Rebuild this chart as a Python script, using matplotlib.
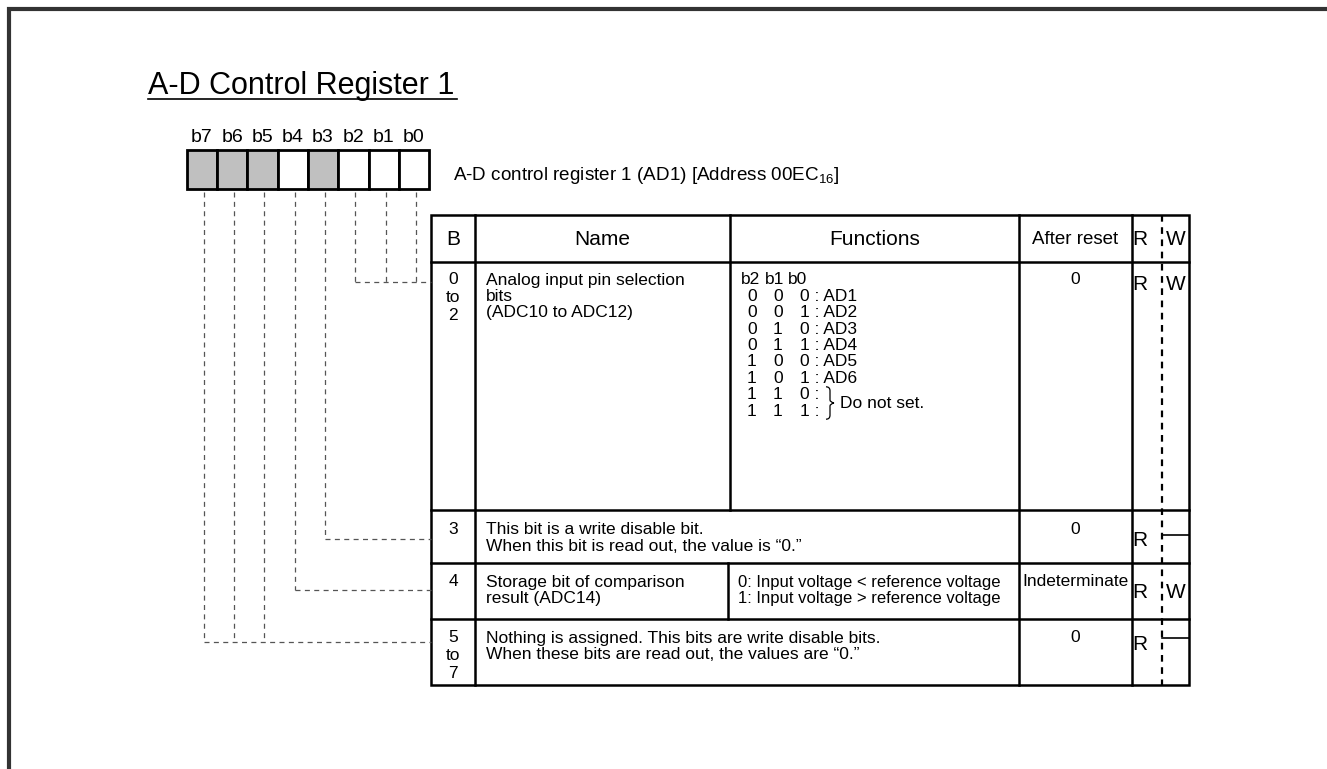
import matplotlib.pyplot as plt
from matplotlib.patches import Rectangle, PathPatch
from matplotlib.path import Path

plt.rcParams['font.family'] = ['Liberation Sans', 'DejaVu Sans']
plt.rcParams['mathtext.fontset'] = 'custom'
plt.rcParams['mathtext.rm'] = 'Liberation Sans'

# ---- content ----
title = "A-D Control Register 1"
reg_desc = r"A-D control register 1 (AD1) [Address 00EC$_{\mathregular{16}}$]"
bit_names = ["b7", "b6", "b5", "b4", "b3", "b2", "b1", "b0"]
bit_shaded = [True, True, True, False, True, False, False, False]

headers = ["B", "Name", "Functions", "After reset"]
row_bits = [["0", "to", "2"], ["3"], ["4"], ["5", "to", "7"]]
row_names = [["Analog input pin selection", "bits", "(ADC10 to ADC12)"],
             ["This bit is a write disable bit.",
              "When this bit is read out, the value is \u201c0.\u201d"],
             ["Storage bit of comparison", "result (ADC14)"],
             ["Nothing is assigned. This bits are write disable bits.",
              "When these bits are read out, the values are \u201c0.\u201d"]]
row_funcs = [None, None,
             ["0: Input voltage < reference voltage",
              "1: Input voltage > reference voltage"], None]
sel_header = ["b2", "b1", "b0"]
sel_codes = ["000", "001", "010", "011", "100", "101", "110", "111"]
sel_labels = ["AD1", "AD2", "AD3", "AD4", "AD5", "AD6", "", ""]
sel_note = "Do not set."
after_reset = ["0", "0", "Indeterminate", "0"]
rw_read = ["R", "R", "R", "R"]
rw_write = ["W", None, "W", None]
# which table row each bit's leader runs to
bit_row = [3, 3, 3, 2, 1, 0, 0, 0]

# ---- layout (pixel coordinates) ----
col_x = [431, 475, 730, 1019, 1132, 1162, 1189]
row_y = [215, 262, 510, 563, 619, 685]
first_line = [280, 530, 582, 638]
leader_y = [282, 539, 590, 642]
step = 16.4
box_x0, box_w, box_y0, box_y1 = 186.7, 30.3, 150, 189

fig = plt.figure(figsize=(13.27, 7.69), dpi=100)
ax = fig.add_axes([0, 0, 1, 1])
ax.set_xlim(0, 1327)
ax.set_ylim(769, 0)
ax.axis('off')

# outer frame (open to the right/bottom edges)
ax.plot([9, 9, 1327], [769, 9, 9], color='#333333', lw=3, solid_joinstyle='miter')

# title
ax.text(148, 94, title, fontsize=22, ha='left', va='baseline')
ax.plot([148, 457], [99, 99], color='black', lw=1.2)

# register bit boxes
for i, (nm, sh) in enumerate(zip(bit_names, bit_shaded)):
    x = box_x0 + i * box_w
    ax.add_patch(Rectangle((x, box_y0), box_w, box_y1 - box_y0,
                           facecolor='#c0c0c0' if sh else 'white',
                           edgecolor='black', lw=2))
    ax.text(x + box_w / 2, 138, nm, fontsize=14, ha='center', va='center')

ax.text(453, 176, reg_desc, fontsize=13.6, ha='left', va='center')

# leader lines from each bit to its row
dash = dict(color='#555555', lw=0.9, linestyle=(0, (4, 3.5)))
for i, r in enumerate(bit_row):
    xc = box_x0 + i * box_w + box_w / 2 + 2
    ax.plot([xc, xc], [box_y1 + 3, leader_y[r]], **dash)
for r in range(4):
    xs = [box_x0 + i * box_w + box_w / 2 + 2 for i, rr in enumerate(bit_row) if rr == r]
    ax.plot([min(xs), col_x[0]], [leader_y[r], leader_y[r]], **dash)

# table grid
tlw = 1.8
ax.add_patch(Rectangle((col_x[0], row_y[0]), col_x[-1] - col_x[0],
                       row_y[-1] - row_y[0], fill=False, edgecolor='black', lw=tlw))
for y in row_y[1:-1]:
    ax.plot([col_x[0], col_x[-1]], [y, y], color='black', lw=tlw)
for x in [col_x[1], col_x[3], col_x[4]]:
    ax.plot([x, x], [row_y[0], row_y[-1]], color='black', lw=tlw)
# Name/Functions divider only where the row has a separate functions cell
ax.plot([col_x[2], col_x[2]], [row_y[0], row_y[2]], color='black', lw=tlw)
for r, f in enumerate(row_funcs):
    if f is not None:
        ax.plot([col_x[2] - 2, col_x[2] - 2], [row_y[r + 1], row_y[r + 2]], color='black', lw=tlw)
# R / W dotted divider
ax.plot([col_x[5], col_x[5]], [row_y[0], row_y[-1]], color='black', lw=1.6,
        linestyle=(0, (3, 2.5)))

# header
hy = (row_y[0] + row_y[1]) / 2 + 1
for j, h in enumerate(headers):
    ax.text((col_x[j] + col_x[j + 1]) / 2, hy, h, fontsize=13.5 if j == 3 else 15,
            ha='center', va='center')
ax.text(col_x[4] + 8, hy, "R", fontsize=15, ha='center', va='center')
ax.text(col_x[5] + 14, hy, "W", fontsize=15, ha='center', va='center')

# rows
fs = 12.5
for r in range(4):
    y0 = first_line[r]
    for k, s in enumerate(row_bits[r]):
        ax.text((col_x[0] + col_x[1]) / 2, y0 + k * 17.5, s, fontsize=fs,
                ha='center', va='center')
    for k, s in enumerate(row_names[r]):
        ax.text(col_x[1] + 11, y0 + k * step, s, fontsize=fs, ha='left', va='center')
    if row_funcs[r] is not None:
        for k, s in enumerate(row_funcs[r]):
            ax.text(col_x[2] + 8, y0 + k * step, s, fontsize=12, ha='left', va='center')
    ax.text((col_x[3] + col_x[4]) / 2, y0, after_reset[r], fontsize=fs,
            ha='center', va='center')
    ry = leader_y[r] + 2
    ax.text(col_x[4] + 8, ry, rw_read[r], fontsize=15, ha='center', va='center')
    if rw_write[r]:
        ax.text(col_x[5] + 14, ry, rw_write[r], fontsize=15, ha='center', va='center')
    else:
        ax.plot([col_x[5], col_x[6]], [ry - 6, ry - 6], color='black', lw=1.2)

# selection bit functions
y0 = first_line[0]
for x, s in zip([741, 765, 788], sel_header):
    ax.text(x, y0, s, fontsize=fs, ha='left', va='center')
for k, (code, lab) in enumerate(zip(sel_codes, sel_labels)):
    y = y0 + (k + 1) * step
    for x, c in zip([747, 773, 800], code[:2]):
        ax.text(x, y, c, fontsize=fs, ha='left', va='center')
    ax.text(800, y, code[2] + " : " + lab if lab else code[2] + " :",
            fontsize=fs, ha='left', va='center')

# brace + note for the two reserved codes
yt = y0 + 7 * step - 8
yb = y0 + 8 * step + 8
ym = (yt + yb) / 2
bx = 826
verts = [(bx, yt), (bx + 4, yt), (bx + 4, yt + 4), (bx + 4, ym - 3),
         (bx + 4, ym - 1), (bx + 8, ym), (bx + 8, ym),
         (bx + 4, ym + 1), (bx + 4, ym + 3), (bx + 4, yb - 4),
         (bx + 4, yb), (bx, yb)]
codes = [Path.MOVETO, Path.CURVE3, Path.CURVE3, Path.LINETO,
         Path.CURVE3, Path.CURVE3, Path.MOVETO,
         Path.CURVE3, Path.CURVE3, Path.LINETO, Path.CURVE3, Path.CURVE3]
ax.add_patch(PathPatch(Path(verts, codes), fill=False, lw=0.9, edgecolor='black'))
ax.text(bx + 14, ym, sel_note, fontsize=fs, ha='left', va='center')

fig.savefig("out.png", dpi=100)
